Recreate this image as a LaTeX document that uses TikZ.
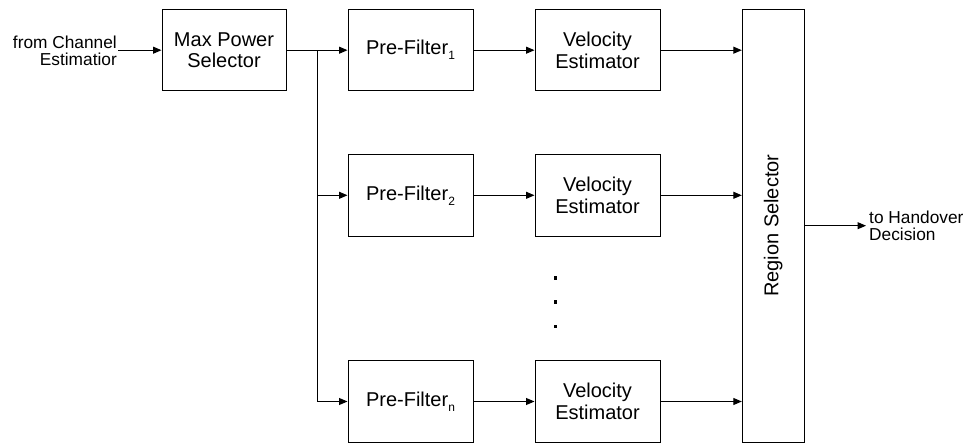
\documentclass[tikz,border=0pt]{standalone}
\usepackage{fontspec}
\setmainfont{Liberation Sans}
\usetikzlibrary{arrows.meta,positioning}
\newcommand{\mysubs}[1]{\raisebox{-5pt}{\fontsize{12}{12}\selectfont #1}}
\begin{document}
\begin{tikzpicture}[x=1pt,y=-1pt,
  blk/.style={draw,line width=1pt,minimum width=125pt,minimum height=81.5pt,inner sep=0pt,align=center,font=\fontsize{20}{21.7}\selectfont},
  side/.style={inner sep=1pt,font=\fontsize{17.3}{17.3}\selectfont},
  conn/.style={line width=1pt,-{Triangle[length=8.5pt,width=7pt]}},
  wire/.style={line width=1pt},
  dotmark/.style={fill=black,minimum size=3.2pt,inner sep=0pt}]
\useasboundingbox (0,0) rectangle (972,443);
\node[blk,minimum width=124pt] (mps) at (224,50.2) {Max Power\\Selector};
\node[blk] (pf1) at (410.5,50.2) {Pre-Filter\mysubs{1}};
\node[blk] (ve1) at (597.5,50.2) {Velocity\\Estimator};
\node[blk] (pf2) at (410.5,195.3) {Pre-Filter\mysubs{2}};
\node[blk] (ve2) at (597.5,195.3) {Velocity\\Estimator};
\node[blk] (pfn) at (410.5,401.5) {Pre-Filter\mysubs{n}};
\node[blk] (ven) at (597.5,401.5) {Velocity\\Estimator};
\node[blk,minimum width=62pt,minimum height=432.7pt] (rs) at (773.3,225.7) {};
\node[rotate=90,font=\fontsize{20}{21.7}\selectfont] (rslabel) at (rs.center) {Region Selector};
\node[side,anchor=east,align=right] (src) at (118,51) {from Channel\\Estimatior};
\coordinate (j1) at (317,50.2);
\coordinate (out) at (866,225.7);
\node[side,anchor=west,align=left,inner sep=3pt] (dst) at (out) {to Handover\\Decision};
\node[dotmark] (d1) at (555.7,278) {};
\node[dotmark] (d2) at (555.7,302) {};
\node[dotmark] (d3) at (555.7,326.5) {};
\draw[conn] (mps.west -| src.east) -- (mps.west);
\draw[conn] (mps.east) -- (pf1.west);
\draw[wire] (j1) -- (j1 |- pfn.west);
\draw[conn] (j1 |- pf2.west) -- (pf2.west);
\draw[conn] (j1 |- pfn.west) -- (pfn.west);
\draw[conn] (pf1.east) -- (ve1.west);
\draw[conn] (pf2.east) -- (ve2.west);
\draw[conn] (pfn.east) -- (ven.west);
\draw[conn] (ve1.east) -- (ve1.east -| rs.west);
\draw[conn] (ve2.east) -- (ve2.east -| rs.west);
\draw[conn] (ven.east) -- (ven.east -| rs.west);
\draw[conn] (rs.east |- out) -- (out);
\end{tikzpicture}
\end{document}
